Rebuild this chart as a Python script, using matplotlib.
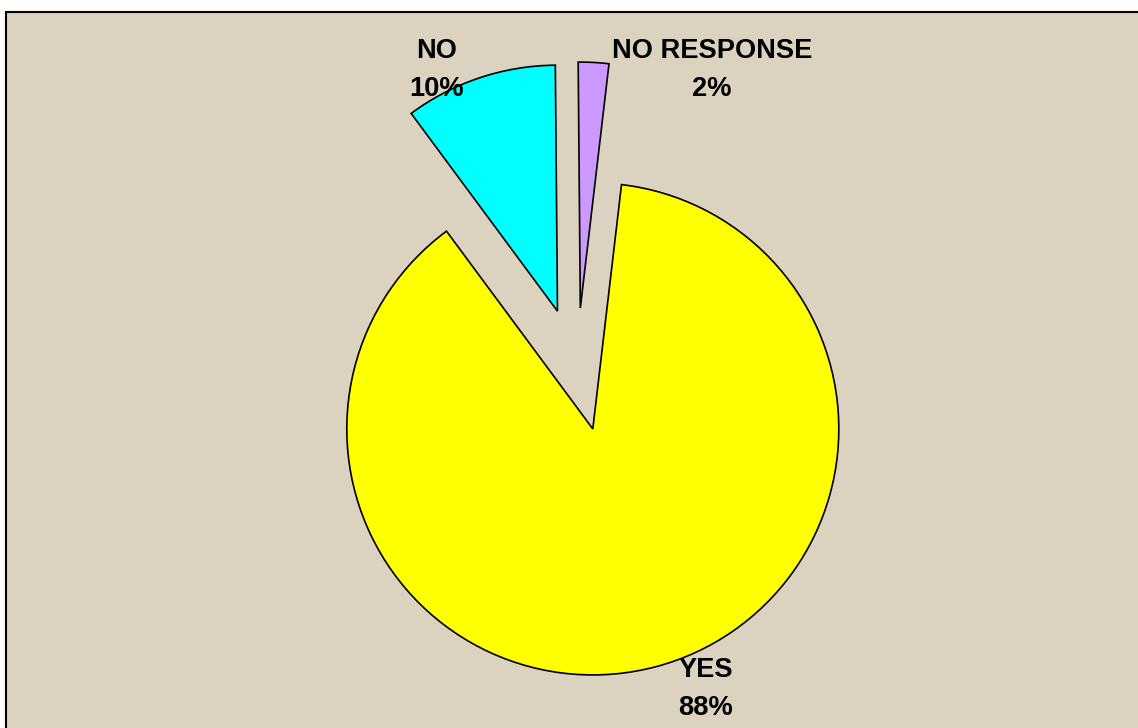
import matplotlib
matplotlib.use("Agg")
import matplotlib.pyplot as plt
from matplotlib.patches import Rectangle

# Data
categories = ["NO RESPONSE", "YES", "NO"]
values = [2, 88, 10]
colors = ["#CC99FF", "#FFFF00", "#00FFFF"]
pct_labels = ["2%", "88%", "10%"]

W, H = 1138, 728
fig = plt.figure(figsize=(W / 100, H / 100), dpi=100)
fig.patch.set_facecolor("white")

ax = fig.add_axes([0, 0, 1, 1])

# Chart area background with frame
bg = Rectangle((6, -5), W + 10, H - 12 + 5, facecolor="#DBD2BF",
               edgecolor="black", linewidth=1.5, zorder=0)
ax.add_patch(bg)

cx, cy, r = 577, H - 369.5, 246
explode_frac = 0.25
wedges, _ = ax.pie(values, colors=colors, startangle=90.5, counterclock=False,
                   explode=[explode_frac * r] * len(values), center=(cx, cy), radius=r,
                   wedgeprops=dict(edgecolor="black", linewidth=1.2),
                   frame=False)
ax.set_xlim(0, W)
ax.set_ylim(0, H)
ax.set_aspect("equal")
ax.axis("off")

font = dict(family=["Liberation Sans", "DejaVu Sans"], fontsize=19.6,
            fontweight="bold", ha="center", va="center", linespacing=1.58,
            color="black", zorder=5)
label_pos = {"NO RESPONSE": (712, H - 70), "YES": (706, H - 689), "NO": (437, H - 70)}
for cat, pct in zip(categories, pct_labels):
    x, y = label_pos[cat]
    ax.text(x, y, f"{cat}\n{pct}", **font)

fig.savefig("out.png", dpi=100, facecolor=fig.get_facecolor())
